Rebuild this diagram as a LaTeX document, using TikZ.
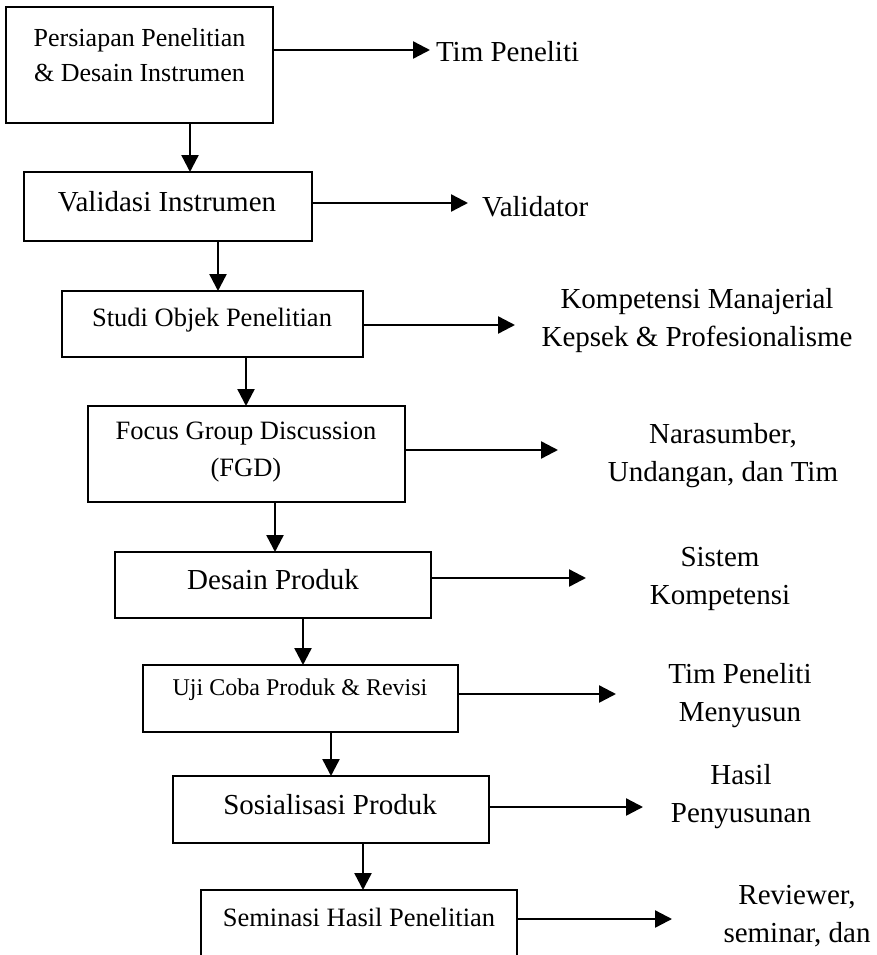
\documentclass[tikz,border=0pt]{standalone}
\usepackage{fontspec}
\setmainfont{Liberation Serif}
\usetikzlibrary{arrows.meta}
\newcommand\setfs[2]{\fontsize{#1}{#2}\selectfont}
\begin{document}
\begin{tikzpicture}[x=1pt,y=-1pt,
  box/.style={draw, line width=1.8pt, inner sep=0pt, outer sep=0pt},
  arr/.style={line width=2.4pt, -{Triangle[length=17pt,width=17pt]}},
  txt/.style={inner sep=0pt, outer sep=0pt, align=center},
  rlab/.style={txt, font=\setfs{29}{38}}]
\clip (0,0) rectangle (876,955);
\fill[white] (0,0) rectangle (876,955);

% boxes
\node[box, minimum width=267pt, minimum height=116pt] (b1) at (139.5,65) {};
\node[box, minimum width=288pt, minimum height=69pt] (b2) at (168,206.5) {};
\node[box, minimum width=301pt, minimum height=66pt] (b3) at (212.5,324) {};
\node[box, minimum width=317pt, minimum height=96pt] (b4) at (246.5,454) {};
\node[box, minimum width=316pt, minimum height=66pt] (b5) at (273,585) {};
\node[box, minimum width=315pt, minimum height=67pt] (b6) at (300.5,698.5) {};
\node[box, minimum width=316pt, minimum height=67pt] (b7) at (331,809.5) {};
\node[box, minimum width=316pt, minimum height=100pt] (b8) at (359,940) {};

% box texts
\node[txt, font=\setfs{26}{35}] (t1) at (139.5,55) {Persiapan Penelitian\\\& Desain Instrumen};
\node[txt, font=\setfs{29}{35}] (t2) at (167,202) {Validasi Instrumen};
\node[txt, font=\setfs{26.5}{35}] (t3) at (212,320) {Studi Objek Penelitian};
\node[txt, font=\setfs{26.5}{37}] (t4) at (246,452) {Focus Group Discussion\\(FGD)};
\node[txt, font=\setfs{29}{35}] (t5) at (273,580) {Desain Produk};
\node[txt, font=\setfs{24}{35}] (t6) at (300,690) {Uji Coba Produk \& Revisi};
\node[txt, font=\setfs{29}{35}] (t7) at (330,805) {Sosialisasi Produk};
\node[txt, font=\setfs{26.5}{35}] (t8) at (359,917) {Seminasi Hasil Penelitian};

% vertical arrows
\draw[arr] (190,0 |- b1.south) -- (190,0 |- b2.north);
\draw[arr] (218,0 |- b2.south) -- (218,0 |- b3.north);
\draw[arr] (246,0 |- b3.south) -- (246,0 |- b4.north);
\draw[arr] (275,0 |- b4.south) -- (275,0 |- b5.north);
\draw[arr] (303,0 |- b5.south) -- (303,0 |- b6.north);
\draw[arr] (331,0 |- b6.south) -- (331,0 |- b7.north);
\draw[arr] (363,0 |- b7.south) -- (363,0 |- b8.north);

% horizontal arrow ends
\coordinate (e1) at (430,50);
\coordinate (e2) at (468,203);
\coordinate (e3) at (515,325);
\coordinate (e4) at (558,450);
\coordinate (e5) at (586,578);
\coordinate (e6) at (616,694);
\coordinate (e7) at (643,807);
\coordinate (e8) at (672,919);

\draw[arr] (b1.east |- e1) -- (e1);
\draw[arr] (b2.east |- e2) -- (e2);
\draw[arr] (b3.east |- e3) -- (e3);
\draw[arr] (b4.east |- e4) -- (e4);
\draw[arr] (b5.east |- e5) -- (e5);
\draw[arr] (b6.east |- e6) -- (e6);
\draw[arr] (b7.east |- e7) -- (e7);
\draw[arr] (b8.east |- e8) -- (e8);

% right labels
\node[rlab, anchor=west] (r1) at (436,52) {Tim Peneliti};
\node[rlab, anchor=west] (r2) at (482,207) {Validator};
\node[rlab] (r3) at (697,321) {Kompetensi Manajerial\\Kepsek \& Profesionalisme};
\node[rlab] (r4) at (723,456) {Narasumber,\\Undangan, dan Tim};
\node[rlab] (r5) at (720,579) {Sistem\\Kompetensi};
\node[rlab] (r6) at (740,696) {Tim Peneliti\\Menyusun};
\node[rlab] (r7) at (741,797) {Hasil\\Penyusunan};
\node[rlab] (r8) at (797,916) {Reviewer,\\seminar, dan};
\end{tikzpicture}
\end{document}
